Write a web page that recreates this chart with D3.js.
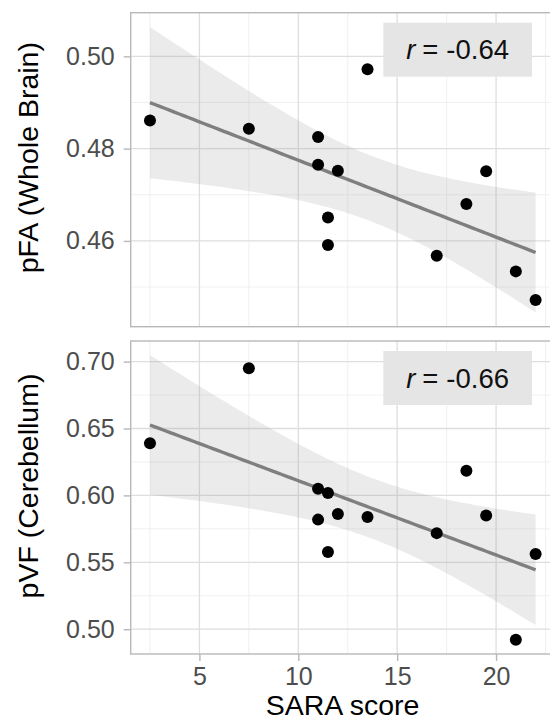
<!DOCTYPE html>
<html>
<head>
<meta charset="utf-8">
<script src="https://cdn.jsdelivr.net/npm/d3@7"></script>
<style>
  body { margin: 0; background: #fff; }
  text { font-family: "Liberation Sans", Arial, sans-serif; }
</style>
</head>
<body>
<script>
const w = 550,
h = 721,
m = {left: 130.7, right: 554.9};

// SARA score for each subject, with the two imaging measures
const sara = [2.5, 7.5, 11, 11, 12, 11.5, 11.5, 13.5, 17, 18.5, 19.5, 21, 22];
const pFA = [0.4861, 0.4843, 0.4825, 0.4765, 0.4752, 0.4651, 0.4591, 0.4972, 0.4568, 0.4680, 0.4751, 0.4534, 0.4472];
const pVF = [0.6389, 0.6951, 0.6050, 0.5819, 0.5861, 0.6018, 0.5577, 0.5839, 0.5718, 0.6184, 0.5849, 0.4921, 0.5562];

const xTicks = [5, 10, 15, 20];
const xMinor = [2.5, 7.5, 12.5, 17.5, 22.5];
const faTicks = [0.46, 0.48, 0.50];
const faMinor = [0.45, 0.47, 0.49];
const vfTicks = [0.50, 0.55, 0.60, 0.65, 0.70];
const vfMinor = [0.525, 0.575, 0.625, 0.675];
const rLabels = ["-0.64", "-0.66"];

const svg = d3.select("body")
    .append("svg")
    .attr("width", w)
    .attr("height", h);

svg.append("rect").attr("width", w).attr("height", h).attr("fill", "#fff");

// ggplot style 5% expansion
const expand = (lo, hi) => [lo - (hi - lo) * 0.05, hi + (hi - lo) * 0.05];

const x = d3.scaleLinear(expand(d3.min(sara), d3.max(sara)), [m.left, m.right]);

// linear model + 95% band, like geom_smooth(method = "lm")
function fit(xs, ys) {
    const n = xs.length;
    const mx = d3.mean(xs), my = d3.mean(ys);
    let sxx = 0, sxy = 0;
    xs.forEach((v, i) => { sxx += (v - mx) ** 2; sxy += (v - mx) * (ys[i] - my); });
    const b = sxy / sxx, a = my - b * mx;
    let sse = 0;
    xs.forEach((v, i) => { sse += (ys[i] - a - b * v) ** 2; });
    const s = Math.sqrt(sse / (n - 2));
    const t = 2.201; // qt(0.975, 11)
    const grid = d3.range(80).map(i => d3.min(xs) + i * (d3.max(xs) - d3.min(xs)) / 79);
    return grid.map(g => {
        const yhat = a + b * g;
        const se = s * Math.sqrt(1 / n + (g - mx) ** 2 / sxx);
        return {x: g, y: yhat, lo: yhat - t * se, hi: yhat + t * se};
    });
}

function panel(ys, top, bottom, ticks, minor, title, rtext, showX, titleY) {
    const band = fit(sara, ys);
    const lo = Math.min(d3.min(ys), d3.min(band, d => d.lo));
    const hi = Math.max(d3.max(ys), d3.max(band, d => d.hi));
    const y = d3.scaleLinear(expand(lo, hi), [bottom, top]);

    const g = svg.append("g");
    const id = "clip" + Math.round(top);
    svg.append("clipPath").attr("id", id)
        .append("rect").attr("x", m.left).attr("y", top)
        .attr("width", m.right - m.left).attr("height", bottom - top);

    const inner = g.append("g").attr("clip-path", `url(#${id})`);

    // grid
    inner.selectAll(".vmin").data(xMinor).join("line")
        .attr("x1", d => x(d)).attr("x2", d => x(d))
        .attr("y1", top).attr("y2", bottom)
        .attr("stroke", "#ececec").attr("stroke-width", 0.8);
    inner.selectAll(".hmin").data(minor).join("line")
        .attr("x1", m.left).attr("x2", m.right)
        .attr("y1", d => y(d)).attr("y2", d => y(d))
        .attr("stroke", "#ececec").attr("stroke-width", 0.8);
    inner.selectAll(".vmaj").data(xTicks).join("line")
        .attr("x1", d => x(d)).attr("x2", d => x(d))
        .attr("y1", top).attr("y2", bottom)
        .attr("stroke", "#dedede").attr("stroke-width", 1.3);
    inner.selectAll(".hmaj").data(ticks).join("line")
        .attr("x1", m.left).attr("x2", m.right)
        .attr("y1", d => y(d)).attr("y2", d => y(d))
        .attr("stroke", "#dedede").attr("stroke-width", 1.3);

    // ribbon + line
    inner.append("path").datum(band)
        .attr("d", d3.area().x(d => x(d.x)).y0(d => y(d.lo)).y1(d => y(d.hi)))
        .attr("fill", "#999").attr("fill-opacity", 0.2);
    inner.append("path").datum(band)
        .attr("d", d3.line().x(d => x(d.x)).y(d => y(d.y)))
        .attr("fill", "none").attr("stroke", "#7f7f7f").attr("stroke-width", 3.4);

    inner.selectAll("circle").data(sara).join("circle")
        .attr("cx", d => x(d)).attr("cy", (d, i) => y(ys[i]))
        .attr("r", 6).attr("fill", "#000");

    // r label
    const lx = 383.3, ly = top + 10;
    inner.append("rect").attr("x", lx).attr("y", ly)
        .attr("width", 148.7).attr("height", 54).attr("fill", "#e5e5e5");
    const t = inner.append("text").attr("x", lx + 74.3).attr("y", ly + 36.5)
        .attr("text-anchor", "middle").style("font-size", "27.5px").attr("fill", "#111");
    t.append("tspan").attr("font-style", "italic").text("r");
    t.append("tspan").attr("dx", 7).text("=");
    t.append("tspan").attr("dx", 8).text(rtext);

    // border
    g.append("rect").attr("x", m.left).attr("y", top)
        .attr("width", m.right - m.left).attr("height", bottom - top)
        .attr("fill", "none").attr("stroke", "#b8b8b8").attr("stroke-width", 1.4);

    // y axis
    const ya = g.append("g").attr("transform", `translate(${m.left},0)`)
        .call(d3.axisLeft(y).tickValues(ticks).tickFormat(d3.format(".2f")).tickSize(7).tickPadding(9));
    ya.select(".domain").remove();
    ya.selectAll("line").attr("stroke", "#b8b8b8").attr("stroke-width", 1.4);
    ya.selectAll("text").style("font-size", "25px").attr("fill", "#4d4d4d")
        .attr("font-family", "Liberation Sans, Arial, sans-serif");

    if (showX) {
        const xa = g.append("g").attr("transform", `translate(0,${bottom})`)
            .call(d3.axisBottom(x).tickValues(xTicks).tickSize(7).tickPadding(6));
        xa.select(".domain").remove();
        xa.selectAll("line").attr("stroke", "#b8b8b8").attr("stroke-width", 1.4);
        xa.selectAll("text").style("font-size", "25px").attr("fill", "#4d4d4d")
            .attr("font-family", "Liberation Sans, Arial, sans-serif");
    }

    svg.append("text")
        .attr("transform", `translate(38,${titleY}) rotate(-90)`)
        .attr("text-anchor", "middle")
        .style("font-size", "28.5px")
        .text(title);
}

panel(pFA, 12.7, 326.7, faTicks, faMinor, "pFA (Whole Brain)", rLabels[0], false, 157.7);
panel(pVF, 341, 654, vfTicks, vfMinor, "pVF (Cerebellum)", rLabels[1], true, 486);

svg.append("text")
    .attr("x", 342.5).attr("y", 715)
    .attr("text-anchor", "middle")
    .style("font-size", "28.5px")
    .text("SARA score");
</script>
</body>
</html>
